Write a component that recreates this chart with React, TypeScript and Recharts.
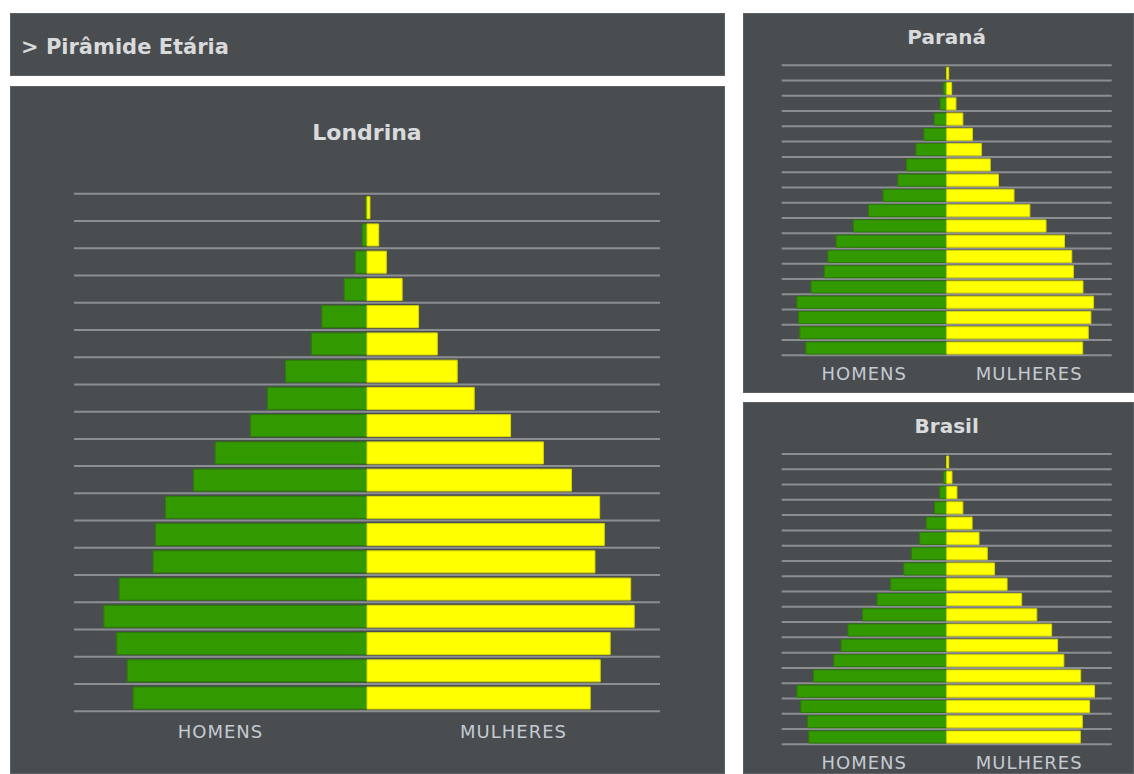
import { Bar, BarChart, CartesianGrid, XAxis, YAxis } from 'recharts';

// age groups, youngest first (axis is reversed so 0-4 sits at the bottom)
const AGES = [
  '0-4', '5-9', '10-14', '15-19', '20-24', '25-29', '30-34', '35-39', '40-44', '45-49',
  '50-54', '55-59', '60-64', '65-69', '70-74', '75-79', '80-84', '85-89', '90+',
];

// % of population
const LONDRINA_MEN = [3.99, 4.09, 4.27, 4.49, 4.23, 3.65, 3.61, 3.44, 2.96, 2.59, 1.99, 1.7, 1.39, 0.95, 0.77, 0.39, 0.2, 0.08, 0.02];
const LONDRINA_WOMEN = [3.81, 3.98, 4.15, 4.56, 4.5, 3.89, 4.05, 3.97, 3.49, 3.01, 2.45, 1.83, 1.54, 1.2, 0.88, 0.6, 0.33, 0.2, 0.05];

const PARANA_MEN = [4.27, 4.45, 4.49, 4.54, 4.11, 3.71, 3.6, 3.35, 2.83, 2.37, 1.93, 1.48, 1.22, 0.93, 0.69, 0.38, 0.2, 0.1, 0.01];
const PARANA_WOMEN = [4.12, 4.29, 4.37, 4.45, 4.13, 3.84, 3.79, 3.57, 3.01, 2.52, 2.04, 1.57, 1.32, 1.05, 0.78, 0.49, 0.28, 0.15, 0.06];

const BRASIL_MEN = [4.18, 4.22, 4.42, 4.54, 4.04, 3.42, 3.2, 2.99, 2.55, 2.11, 1.7, 1.3, 1.07, 0.82, 0.62, 0.37, 0.21, 0.1, 0.01];
const BRASIL_WOMEN = [4.05, 4.11, 4.33, 4.48, 4.06, 3.55, 3.36, 3.18, 2.73, 2.27, 1.83, 1.45, 1.23, 0.98, 0.77, 0.49, 0.31, 0.16, 0.06];

const SIDE_LABELS = ['HOMENS', 'MULHERES'];
const SIDE_TICKS = [-2.5, 2.5];
const DOMAIN: [number, number] = [-5, 5];

const FONT = '"DejaVu Sans", Verdana, sans-serif';
const PANEL_BG = '#4a4d50';
const GRID = '#8c8f92';
const GREEN = '#339900';
const YELLOW = '#ffff00';

interface PyramidProps {
  title: string;
  men: number[];
  women: number[];
  width: number;
  height: number;
  margin: { top: number; right: number; bottom: number; left: number };
  stub: number;
  axisHeight: number;
  labelGap: number;
  barSize: number;
  titleTop: number;
  titleSize: number;
}

// lines on the band edges, not the band centres
function bandEdges({ offset }: any) {
  const n = AGES.length;
  const out: number[] = [];
  for (let i = 0; i <= n; i++) out.push(offset.top + (i * offset.height) / n);
  return out;
}

function Pyramid(p: PyramidProps) {
  const data = AGES.map((age, i) => ({ age, men: -p.men[i], women: p.women[i] }));
  const plotW = p.width - p.margin.left - p.margin.right;
  return (
    <div style={{ position: 'relative', width: p.width, height: p.height }}>
      <div
        style={{
          position: 'absolute',
          top: p.titleTop,
          left: p.margin.left,
          width: plotW,
          textAlign: 'center',
          fontSize: p.titleSize,
          lineHeight: 1,
          fontWeight: 'bold',
          color: '#d8dadc',
        }}
      >
        {p.title}
      </div>
      <BarChart
        width={p.width}
        height={p.height}
        data={data}
        layout="vertical"
        stackOffset="sign"
        margin={p.margin}
      >
        <CartesianGrid
          vertical={false}
          stroke={GRID}
          strokeWidth={2}
          horizontalCoordinatesGenerator={bandEdges}
        />
        <XAxis
          xAxisId="top"
          orientation="top"
          type="number"
          domain={DOMAIN}
          ticks={[0]}
          tickFormatter={() => ''}
          axisLine={false}
          tickSize={p.stub}
          tickLine={{ stroke: '#66742a', strokeWidth: 1 }}
          height={p.stub}
        />
        <XAxis
          xAxisId="bottom"
          type="number"
          domain={DOMAIN}
          ticks={SIDE_TICKS}
          tickFormatter={(v: number) => (v < 0 ? SIDE_LABELS[0] : SIDE_LABELS[1])}
          axisLine={false}
          tickLine={false}
          tickSize={0}
          tickMargin={p.labelGap}
          height={p.axisHeight}
          tick={{ fill: '#c4cbd2', fontSize: 18, fontFamily: FONT, letterSpacing: 1 }}
        />
        <YAxis dataKey="age" type="category" reversed hide />
        <Bar
          dataKey="men"
          xAxisId="bottom"
          stackId="a"
          fill={GREEN}
          stroke="#2b7d00"
          strokeWidth={1}
          barSize={p.barSize}
          isAnimationActive={false}
        />
        <Bar
          dataKey="women"
          xAxisId="bottom"
          stackId="a"
          fill={YELLOW}
          stroke="#d6d600"
          strokeWidth={1}
          barSize={p.barSize}
          isAnimationActive={false}
        />
      </BarChart>
    </div>
  );
}

const panel = (left: number, top: number, width: number, height: number): React.CSSProperties => ({
  position: 'absolute',
  left,
  top,
  width,
  height,
  background: PANEL_BG,
  boxShadow: 'inset 0 0 0 1px #5e6164',
  overflow: 'hidden',
});

export default function App() {
  return (
    <div
      style={{
        position: 'fixed',
        left: 0,
        top: 0,
        width: 1134,
        height: 774,
        background: '#ffffff',
        overflow: 'hidden',
        fontFamily: FONT,
      }}
    >
      <div style={panel(10, 13, 715, 63)}>
        <div
          style={{
            position: 'absolute',
            left: 11,
            top: 24,
            fontSize: 21,
            lineHeight: 1,
            fontWeight: 'bold',
            color: '#d8dadc',
          }}
        >
          &gt; Pirâmide Etária
        </div>
      </div>

      <div style={panel(10, 86, 715, 688)}>
        <Pyramid
          title="Londrina"
          men={LONDRINA_MEN}
          women={LONDRINA_WOMEN}
          width={715}
          height={688}
          margin={{ top: 94.7, right: 65, bottom: 22.7, left: 64 }}
          stub={13}
          axisHeight={40}
          labelGap={13.5}
          barSize={22}
          titleTop={36.4}
          titleSize={22}
        />
      </div>

      <div style={panel(743, 13, 391, 380)}>
        <Pyramid
          title="Paraná"
          men={PARANA_MEN}
          women={PARANA_WOMEN}
          width={391}
          height={380}
          margin={{ top: 44.3, right: 22.3, bottom: 7.7, left: 38.7 }}
          stub={8}
          axisHeight={30}
          labelGap={12.4}
          barSize={12}
          titleTop={14}
          titleSize={20}
        />
      </div>

      <div style={panel(743, 402, 391, 372)}>
        <Pyramid
          title="Brasil"
          men={BRASIL_MEN}
          women={BRASIL_WOMEN}
          width={391}
          height={372}
          margin={{ top: 44, right: 22.3, bottom: 3.7, left: 38.7 }}
          stub={8}
          axisHeight={26}
          labelGap={12.4}
          barSize={12}
          titleTop={14}
          titleSize={20}
        />
      </div>
    </div>
  );
}
